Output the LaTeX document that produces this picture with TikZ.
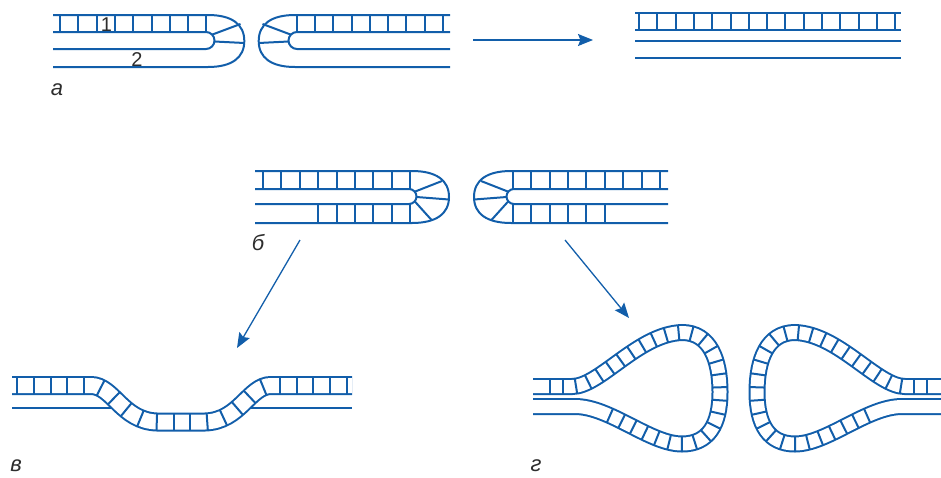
\documentclass[tikz,border=0pt]{standalone}
\usepackage{fontspec}
\setmainfont{Liberation Sans}
\usetikzlibrary{arrows.meta,decorations.markings}
\definecolor{DnaBlue}{RGB}{18,94,170}
\definecolor{LabelGray}{RGB}{45,45,45}
\tikzset{
  strand/.style={draw=DnaBlue,line width=1pt},
  rung/.style={draw=DnaBlue,line width=1pt},
  duplex/.style={postaction={draw=DnaBlue,line width=1pt,double=white,double distance=#1}},
  rungs/.style n args={4}{postaction={decorate,decoration={markings,
    mark=between positions #1 and #2 step #3 with {\draw[rung] (0,-#4) -- (0,#4);}}}},
  flow/.style={-{Stealth[length=7.5pt,width=6pt,inset=1.2pt]},line width=0.65pt,draw=DnaBlue},
  tag/.style={font=\itshape\fontsize{11}{13}\selectfont,text=LabelGray,inner sep=0pt,anchor=base},
  num/.style={font=\fontsize{10}{12}\selectfont,text=LabelGray,inner sep=0pt}
}

\begin{document}
\begin{tikzpicture}[x=0.5pt,y=-0.5pt]
  \useasboundingbox (0,0) rectangle (941,477);

  % two hairpin ends (a), the right one mirrored
  \foreach \sx/\dx in {1/0,-1/503}{
  \begin{scope}[shift={(\dx,0)},xscale=\sx]
    \draw[strand] (53,15) -- (208,15) .. controls (231.6,15) and (244.3,24.1) .. (244.3,41)
      .. controls (244.3,57.9) and (231.6,67) .. (208,67) -- (53,67);
    \draw[strand] (53,32) -- (206,32) .. controls (210.7,32) and (214.5,35.8) .. (214.5,40.5)
      .. controls (214.5,45.2) and (210.7,49) .. (206,49) -- (53,49);
    \foreach \i in {0,...,8}
      \draw[rung] (60+18.3*\i,15) -- (60+18.3*\i,32);
    \draw[rung] (212.5,34.5) -- (240.5,24) (214.5,41.5) -- (244.3,43);
  \end{scope}}
  \node[num] (n1) at (106.5,25) {1};
  \node[num] (n2) at (137,60) {2};
  \node[tag] (lbl-a) at (57,95) {а};

  % joined product
  \draw[strand] (635,13) -- (901,13) (635,30) -- (901,30)
    (635,41) -- (901,41) (635,58) -- (901,58);
  \foreach \i in {0,...,14}
    \draw[rung] (639+18.3*\i,13) -- (639+18.3*\i,30);
  \coordinate (a-tail) at (473,40);
  \coordinate (a-head) at (593,40);
  \draw[flow] (a-tail) -- (a-head);

  % hairpins with a gap in the lower strand (b)
  \foreach \sx/\dx in {1/0,-1/923}{
  \begin{scope}[shift={(\dx,0)},xscale=\sx]
    \draw[strand] (255,171) -- (412,171) .. controls (436,171) and (449,180.1) .. (449,197)
      .. controls (449,213.9) and (436,223) .. (412,223) -- (255,223);
    \draw[strand] (255,189) -- (409,189) .. controls (413.1,189) and (416.5,192.4) .. (416.5,196.5)
      .. controls (416.5,200.6) and (413.1,204) .. (409,204) -- (255,204);
    \foreach \i in {0,...,8}
      \draw[rung] (263+18.4*\i,171) -- (263+18.4*\i,189);
    \foreach \i in {3,...,8}
      \draw[rung] (263+18.4*\i,204) -- (263+18.4*\i,223);
    \draw[rung] (414.7,191.7) -- (442,181) (416.5,197) -- (449,199.5)
      (414.7,201.3) -- (432,220.5);
  \end{scope}}
  \node[tag] (lbl-b) at (258,250) {б};
  \coordinate (b-left) at (300,240);
  \coordinate (v-top) at (237,348);
  \coordinate (b-right) at (565,240);
  \coordinate (g-top) at (629,318);
  \draw[flow] (b-left) -- (v-top);
  \draw[flow] (b-right) -- (g-top);

  % duplex bent down into the lower strand (v)
  \draw[strand] (12,408) -- (120,408) (244,408) -- (352,408);
  \path[duplex=7.5pt,rungs={0.0136}{0.99}{0.04632}{8.5}]
    (12,385.5) -- (91,385.5) .. controls (113,385.5) and (122,421) .. (157,422)
    -- (205,422) .. controls (240,421) and (249,385.5) .. (271,385.5) -- (352,385.5);
  \node[tag] (lbl-v) at (16,471) {в};

  % two loops (g), the right one mirrored
  \foreach \sx/\dx in {1/0,-1/1477}{
  \begin{scope}[shift={(\dx,0)},xscale=\sx]
    \path[duplex=6.5pt,rungs={8.5pt}{-37pt}{6.5pt}{7.5}]
      (533,386.5) -- (572,386.5) .. controls (600,386.5) and (638,334) .. (682,332.5)
      .. controls (710,332.5) and (720,360) .. (720,392)
      .. controls (720,425) and (708,444) .. (682,444)
      .. controls (650,444) and (610,406.5) .. (575,406.5) -- (533,406.5);
  \end{scope}}
  \node[tag] (lbl-g) at (536,471) {г};
\end{tikzpicture}
\end{document}
